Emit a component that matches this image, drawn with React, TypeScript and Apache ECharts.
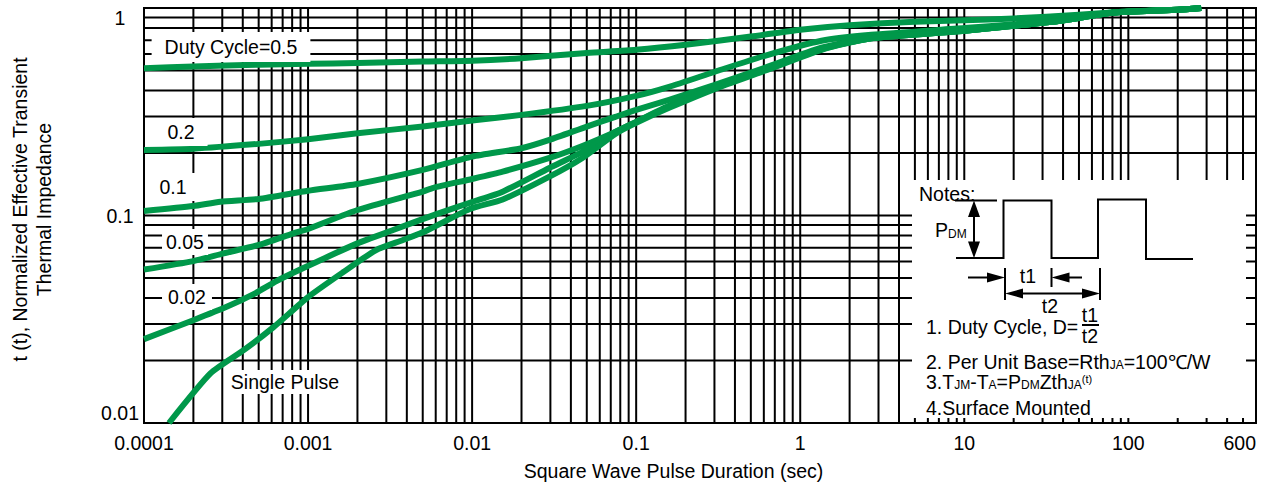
import React, { useEffect, useRef } from "react";
import * as echarts from "echarts";

// ---- data ----
const xTickExtents = [0.0001, 600];
const yTickExtents = [0.01, 1];
const xDecades = [0.0001, 0.001, 0.01, 0.1, 1, 10, 100];
const yDecades = [0.01, 0.1];
const decadeSteps = [1, 2, 3, 4, 5, 6, 7, 8, 9];

const duty05: [number, number][] = [
  [0.0001, 0.513], [0.0002, 0.522], [0.0005, 0.533], [0.001, 0.538], [0.002, 0.543],
  [0.005, 0.552], [0.01, 0.557], [0.02, 0.573], [0.05, 0.607], [0.1, 0.629],
  [0.2, 0.665], [0.5, 0.729], [1, 0.786], [2, 0.826], [5, 0.859], [10, 0.873],
  [20, 0.89], [50, 0.928], [100, 0.962], [200, 0.981], [278, 1.0],
];
const duty02: [number, number][] = [
  [0.0001, 0.207], [0.0002, 0.21], [0.0005, 0.2214], [0.001, 0.2332], [0.002, 0.2492],
  [0.005, 0.2683], [0.01, 0.2868], [0.02, 0.3055], [0.05, 0.3376], [0.1, 0.3773],
  [0.1587, 0.417], [0.302, 0.4929], [0.608, 0.5886], [1.348, 0.6954], [2.71, 0.743],
  [10, 0.8], [20, 0.835], [38.7, 0.875], [74.6, 0.945], [100, 0.961], [200, 0.981], [278, 1.0],
];
const duty01: [number, number][] = [
  [0.0001, 0.1051], [0.0002, 0.1111], [0.000292, 0.1166], [0.0005, 0.1202], [0.001, 0.1317],
  [0.002, 0.1419], [0.005, 0.1658], [0.01, 0.1922], [0.02, 0.211], [0.0296, 0.2314],
  [0.05, 0.2683], [0.0746, 0.2988], [0.1, 0.323], [0.1587, 0.361], [0.302, 0.4264],
  [0.608, 0.5148], [1.348, 0.6433], [2.71, 0.719], [10, 0.777], [20, 0.821],
  [38.7, 0.868], [74.6, 0.944], [100, 0.96], [200, 0.981], [278, 1.0],
];
const duty005: [number, number][] = [
  [0.0001, 0.0549], [0.0002, 0.0603], [0.000306, 0.0657], [0.0005, 0.0721], [0.000815, 0.082],
  [0.001, 0.0861], [0.002, 0.1063], [0.005, 0.1305], [0.0058, 0.136], [0.01, 0.15],
  [0.01536, 0.1627], [0.0296, 0.1894], [0.047, 0.2164], [0.0746, 0.2529], [0.1, 0.2827],
  [0.1587, 0.3376], [0.302, 0.417], [0.608, 0.5094], [1.348, 0.636], [2.71, 0.715],
  [10, 0.777], [20, 0.821], [38.7, 0.868], [74.6, 0.944], [100, 0.96], [200, 0.981], [278, 1.0],
];
const duty002: [number, number][] = [
  [0.0001, 0.02535], [0.0002, 0.0313], [0.000319, 0.0363], [0.000466, 0.0418], [0.000642, 0.0483],
  [0.000937, 0.0558], [0.002, 0.0734], [0.0033, 0.0851], [0.0060, 0.1013], [0.01, 0.1162],
  [0.01536, 0.1302], [0.0296, 0.1695], [0.047, 0.2025], [0.0746, 0.2529], [0.1, 0.2827],
  [0.1587, 0.3355], [0.302, 0.4124], [0.608, 0.5038], [1.348, 0.6326], [2.71, 0.715],
  [10, 0.777], [20, 0.821], [38.7, 0.868], [74.6, 0.944], [100, 0.96], [200, 0.981], [278, 1.0],
];
const singlePulse: [number, number][] = [
  [0.000142, 0.01], [0.000255, 0.01738], [0.000405, 0.02243], [0.000616, 0.02896], [0.001, 0.04044],
  [0.00164, 0.05338], [0.0026, 0.06817], [0.00379, 0.0762], [0.00523, 0.0842], [0.00968, 0.1075],
  [0.01536, 0.1195], [0.0296, 0.1539], [0.047, 0.1894], [0.0746, 0.2473], [0.1, 0.2796],
  [0.1587, 0.3302], [0.302, 0.4078], [0.608, 0.4982], [1.348, 0.629], [2.71, 0.7147],
  [10, 0.777], [20, 0.821], [38.7, 0.868], [74.6, 0.944], [100, 0.96], [200, 0.981], [278, 1.0],
];

const xTitle = "Square Wave Pulse Duration (sec)";
const yTitle = "t (t), Normalized Effective Transient\nThermal Impedance";
const curveLabels = ["Duty Cycle=0.5", "0.2", "0.1", "0.05", "0.02", "Single Pulse"];

const FONT = "'Liberation Sans', Arial, Helvetica, sans-serif";
const GREEN = "#00984a";
const FS = 19.5;

const gridXs: number[] = [];
xDecades.forEach((d) =>
  decadeSteps.forEach((k) => {
    const v = +(d * k).toPrecision(6);
    if (v > xTickExtents[0] && v < xTickExtents[1]) gridXs.push(v);
  })
);
const gridYs: number[] = [];
yDecades.forEach((d) =>
  decadeSteps.forEach((k) => {
    const v = +(d * k).toPrecision(6);
    if (v > yTickExtents[0] && v < yTickExtents[1]) gridYs.push(v);
  })
);

const fmt = (v: number) => String(+Number(v).toPrecision(3));

const txt = (text: string, x: number, y: number, align = "left", extra: any = {}) => ({
  type: "text",
  z: 30,
  silent: true,
  style: {
    text,
    x,
    y,
    fill: "#000",
    fontSize: FS,
    fontFamily: FONT,
    align,
    textAlign: align,
    verticalAlign: "middle",
    textVerticalAlign: "middle",
    ...extra,
  },
});
const ln = (x1: number, y1: number, x2: number, y2: number) => ({
  type: "line",
  z: 30,
  silent: true,
  shape: { x1, y1, x2, y2 },
  style: { stroke: "#000", lineWidth: 2 },
});
const head = (pts: number[][]) => ({
  type: "polygon",
  z: 30,
  silent: true,
  shape: { points: pts },
  style: { fill: "#000" },
});

const rich = {
  s: { fontSize: 12, fontFamily: FONT, fill: "#000", verticalAlign: "bottom", lineHeight: 12 },
  p: { fontSize: 11, fontFamily: FONT, fill: "#000", verticalAlign: "top", lineHeight: 11 },
};

export default function App() {
  const ref = useRef<HTMLDivElement>(null);
  useEffect(() => {
    if (!ref.current) return;
    const chart = echarts.init(ref.current, undefined, { renderer: "svg" });

    const vRender = (_p: any, api: any) => {
      const v = api.value(0);
      const a = api.coord([v, yTickExtents[1]]);
      const b = api.coord([v, yTickExtents[0]]);
      return { type: "line", shape: { x1: a[0], y1: a[1], x2: b[0], y2: b[1] }, style: { stroke: "#000", lineWidth: 2 } };
    };
    const hRender = (_p: any, api: any) => {
      const v = api.value(1);
      const a = api.coord([xTickExtents[0], v]);
      const b = api.coord([xTickExtents[1], v]);
      return { type: "line", shape: { x1: a[0], y1: a[1], x2: b[0], y2: b[1] }, style: { stroke: "#000", lineWidth: 2 } };
    };

    const curves = [duty05, duty02, duty01, duty005, duty002, singlePulse];

    const labelBox = { backgroundColor: "#fff" };

    const graphics: any[] = [
      // curve labels
      txt(curveLabels[0], 231, 47, "center", { ...labelBox, padding: [5, 13] }),
      txt(curveLabels[1], 181, 132, "center", { ...labelBox, padding: [4, 13] }),
      txt(curveLabels[2], 173, 187, "center", { ...labelBox, padding: [4, 12] }),
      txt(curveLabels[3], 185, 242, "center", { ...labelBox, padding: [3, 4] }),
      txt(curveLabels[4], 187, 297, "center", { ...labelBox, padding: [3, 6] }),
      txt(curveLabels[5], 285, 382, "center", { ...labelBox, padding: [2, 4] }),
      // notes box
      { type: "rect", z: 25, silent: true, shape: { x: 912, y: 180, width: 334, height: 238 }, style: { fill: "#fff" } },
      txt("Notes:", 919, 194),
      {
        type: "polyline",
        z: 30,
        silent: true,
        shape: {
          points: [
            [956, 258], [1003.5, 258], [1003.5, 200.5], [1051.5, 200.5], [1051.5, 258],
            [1098, 258], [1098, 199.5], [1146, 199.5], [1146, 259], [1193, 259],
          ],
        },
        style: { stroke: "#000", lineWidth: 2, fill: null },
      },
      ln(955, 200.5, 997, 200.5),
      ln(974, 214, 974, 244),
      head([[974, 200.5], [968, 217], [980, 217]]),
      head([[974, 258], [968, 241.5], [980, 241.5]]),
      txt("P{s|DM}", 935, 230, "left", { rich, lineHeight: 20 }),
      // t1 / t2 markers
      ln(968, 277.5, 990, 277.5),
      head([[1005, 277.5], [987, 272.5], [987, 282.5]]),
      ln(1005, 268, 1005, 300),
      ln(1051.5, 268, 1051.5, 287),
      ln(1067, 277.5, 1082, 277.5),
      head([[1051.5, 277.5], [1069.5, 272.5], [1069.5, 282.5]]),
      ln(1100, 268, 1100, 300),
      ln(1020, 293.5, 1085, 293.5),
      head([[1005, 293.5], [1023, 288.5], [1023, 298.5]]),
      head([[1100, 293.5], [1082, 288.5], [1082, 298.5]]),
      txt("t1", 1028, 276, "center"),
      txt("t2", 1050, 306, "center", { lineHeight: 18 }),
      // notes text
      txt("1. Duty Cycle, D=", 926, 327, "left", { lineHeight: 18 }),
      txt("t1", 1090, 315, "center", { lineHeight: 18 }),
      ln(1082, 325, 1099, 325),
      txt("t2", 1090, 336, "center", { lineHeight: 18 }),
      txt("2. Per Unit Base=Rth{s|JA}=100℃/W", 926, 362, "left", { rich, lineHeight: 18 }),
      txt("3.T{s|JM}-T{s|A}=P{s|DM}Zth{s|JA}{p|(t)}", 926, 382, "left", { rich, lineHeight: 18 }),
      txt("4.Surface Mounted", 926, 408, "left", { lineHeight: 18 }),
    ];

    chart.setOption({
      animation: false,
      grid: { left: 140, right: 23, top: 8, bottom: 66, show: true, borderColor: "#000", borderWidth: 2, backgroundColor: "transparent" },
      xAxis: {
        type: "log",
        logBase: 10,
        min: xTickExtents[0],
        max: xTickExtents[1],
        axisLine: { show: true, lineStyle: { color: "#000", width: 2 } },
        axisTick: { show: false },
        splitLine: { show: false },
        axisLabel: {
          color: "#000",
          fontFamily: FONT,
          fontSize: FS,
          lineHeight: 20,
          margin: 10,
          formatter: fmt,
          showMinLabel: true,
          showMaxLabel: true,
          alignMaxLabel: "right",
        },
        name: xTitle,
        nameLocation: "middle",
        nameGap: 38,
        nameTextStyle: { color: "#000", fontFamily: FONT, fontSize: FS, lineHeight: 20, padding: [0, 53, 0, 0] },
      },
      yAxis: {
        type: "log",
        logBase: 10,
        min: yTickExtents[0],
        max: yTickExtents[1],
        axisLine: { show: true, lineStyle: { color: "#000", width: 2 } },
        axisTick: { show: false },
        splitLine: { show: false },
        axisLabel: {
          color: "#000",
          fontFamily: FONT,
          fontSize: FS,
          lineHeight: 20,
          margin: 24,
          align: "center",
          formatter: fmt,
          showMinLabel: true,
          showMaxLabel: true,
          verticalAlignMinLabel: "bottom",
          verticalAlignMaxLabel: "top",
        },
        name: yTitle,
        nameLocation: "middle",
        nameGap: 88,
        nameRotate: 90,
        nameTextStyle: { color: "#000", fontFamily: FONT, fontSize: FS, lineHeight: 24, padding: [0, 0, 0, 12] },
      },
      series: [
        { type: "custom", name: "vgrid", z: 1, silent: true, clip: false, renderItem: vRender, data: gridXs.map((v) => [v, 0.1]), encode: { x: 0, y: 1 } },
        { type: "custom", name: "hgrid", z: 1, silent: true, clip: false, renderItem: hRender, data: gridYs.map((v) => [1, v]), encode: { x: 0, y: 1 } },
        ...curves.map((d, i) => ({
          type: "line",
          name: curveLabels[i],
          data: d,
          z: 3 + i,
          silent: true,
          symbol: "none",
          showSymbol: false,
          smooth: 0.2,
          clip: true,
          lineStyle: { color: GREEN, width: 6, cap: "butt", join: "round" },
        })),
      ],
      graphic: { elements: graphics },
    });

    return () => chart.dispose();
  }, []);

  return <div ref={ref} style={{ position: "absolute", left: 0, top: 0, width: 1279, height: 489 }} />;
}
